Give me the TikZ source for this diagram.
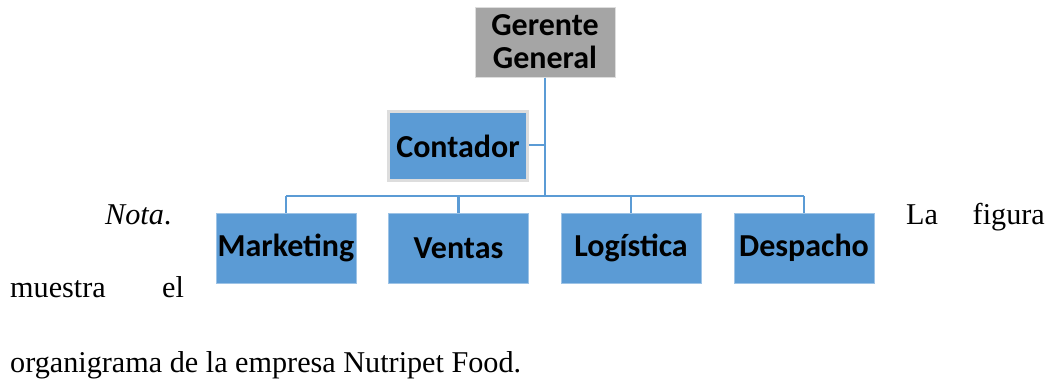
\documentclass[tikz,border=0pt]{standalone}
\usepackage{fontspec}
\setmainfont{Liberation Serif}
\newfontfamily\boxfont{Carlito}
\definecolor{boxblue}{HTML}{5B9BD5}
\definecolor{boxgray}{HTML}{A5A5A5}
\definecolor{lineblue}{HTML}{5B9BD5}
\definecolor{edgeblue}{HTML}{9DC3E6}
\definecolor{edgegray}{HTML}{DDDDDD}
\begin{document}
\begin{tikzpicture}[x=1pt,y=-1pt,
  orgbox/.style={rectangle, fill=boxblue, draw=edgeblue, line width=1pt, minimum width=140pt, minimum height=70pt, inner sep=0pt, font=\boxfont\bfseries\fontsize{32}{33}\selectfont, text=black},
  topbox/.style={orgbox, fill=boxgray, draw=edgegray, align=center},
  sidebox/.style={orgbox, draw=edgegray, line width=3pt, minimum width=139pt, minimum height=69pt},
  conn/.style={draw=lineblue, line width=2.5pt},
  bodytext/.style={inner sep=0pt, font=\fontsize{30.2}{36}\selectfont}]
\useasboundingbox (0,0) rectangle (1055,383);
\node[topbox] (gg) at (545,42) {Gerente\\General};
\node[sidebox] (cont) at (458,146) {Contador};
\node[orgbox] (mkt) at (286,248) {Marketing};
\node[orgbox] (ven) at (458.5,248) {Ventas};
\node[orgbox] (log) at (631,248) {Logística};
\node[orgbox] (des) at (804,248) {Despacho};
\coordinate (jn) at (545,196);
\coordinate (jc) at (545,145);
\coordinate (lm) at (286,196);
\coordinate (lv) at (458.5,196);
\coordinate (ll) at (631,196);
\coordinate (ld) at (804,196);
\draw[conn] (gg.south) -- (jn);
\draw[conn] (jc) -- (cont.east |- jc);
\draw[conn] (lm) -- (ld);
\draw[conn] (lm) -- (mkt.north);
\draw[conn] (lv) -- (ven.north);
\draw[conn] (ll) -- (log.north);
\draw[conn] (ld) -- (des.north);
\node[bodytext, anchor=base west] (nota) at (105,224) {\itshape Nota\upshape.};
\node[bodytext, anchor=base west] (la) at (906,224) {La};
\node[bodytext, anchor=base east] (fig) at (1045,224) {figura};
\node[bodytext, anchor=base west] (mue) at (10,297) {muestra};
\node[bodytext, anchor=base west] (el) at (162,297) {el};
\node[bodytext, anchor=base west] (org) at (10,372) {organigrama de la empresa Nutripet Food.};
\end{tikzpicture}
\end{document}
